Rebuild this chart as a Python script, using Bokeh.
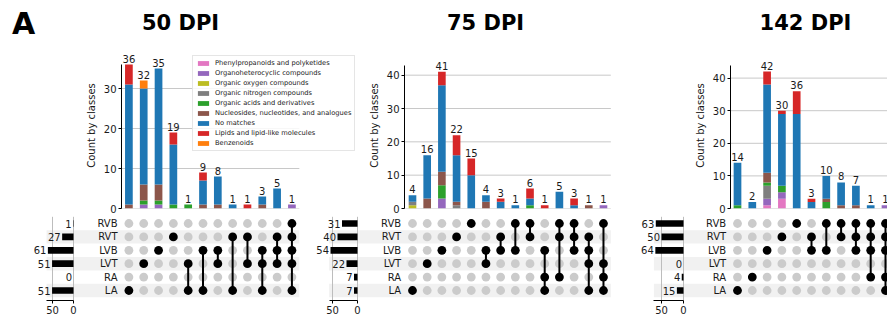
from bokeh.plotting import figure
from bokeh.models import Range1d, ColumnDataSource, FixedTicker, LinearAxis, Legend, LegendItem
from bokeh.layouts import column, row
from bokeh.embed import file_html
from bokeh.resources import INLINE
from bokeh.core.properties import value

# ------------------------------------------------------------------ data
SETS = ["RVB", "RVT", "LVB", "LVT", "RA", "LA"]
CLASSES = ["Phenylpropanoids and polyketides", "Organoheterocyclic compounds",
           "Organic oxygen compounds", "Organic nitrogen compounds",
           "Organic acids and derivatives", "Nucleosides, nucleotides, and analogues",
           "No matches", "Lipids and lipid-like molecules", "Benzenoids"]
CLASS_KEYS = ["phenyl", "organohet", "oxygen", "nitrogen", "acids", "nucleo",
              "nomatch", "lipids", "benzen"]
COLORS = ["#e377c2", "#9467bd", "#bcbd22", "#7f7f7f", "#2ca02c", "#8c564b",
          "#1f77b4", "#d62728", "#ff7f0e"]
TITLES = ["50 DPI", "75 DPI", "142 DPI"]

# ---- 50 DPI
d50_members = [["LA"], ["LVT"], ["LVB"], ["RVT"], ["LVT", "LA"], ["LVB", "LA"],
               ["LVB", "LVT"], ["RVT", "LA"], ["RVT", "LVT"], ["LVB", "LVT", "LA"],
               ["RVT", "LVB", "LVT"], ["RVB", "RVT", "LVB", "LVT", "LA"]]
d50_totals = [1, 27, 61, 51, 0, 51]
d50_phenyl = [0, 0, 0, 0, 0, 0, 0, 0, 0, 0, 0, 0]
d50_organohet = [0, 1, 1, 0, 0, 0, 0, 0, 0, 0, 0, 1]
d50_oxygen = [0, 0, 0, 0, 0, 0, 0, 0, 0, 0, 0, 0]
d50_nitrogen = [0, 0, 0, 0, 0, 0, 0, 0, 0, 0, 0, 0]
d50_acids = [0, 1, 1, 1, 1, 0, 0, 0, 0, 0, 0, 0]
d50_nucleo = [1, 4, 4, 0, 0, 1, 1, 0, 0, 1, 0, 0]
d50_nomatch = [30, 24, 29, 15, 0, 6, 7, 1, 0, 2, 5, 0]
d50_lipids = [5, 0, 0, 3, 0, 2, 0, 0, 1, 0, 0, 0]
d50_benzen = [0, 2, 0, 0, 0, 0, 0, 0, 0, 0, 0, 0]

# ---- 75 DPI
d75_members = [["LA"], ["LVT"], ["LVB"], ["RVT"], ["RVB"], ["LVB", "LVT"],
               ["RVT", "LVB"], ["RVB", "LVB"], ["RVB", "RVT"], ["LVB", "RA", "LA"],
               ["RVB", "RVT", "RA"], ["RVB", "RVT", "LVB"], ["RVT", "LVB", "LVT", "LA"],
               ["RVB", "LVT", "RA", "LA"]]
d75_totals = [31, 40, 54, 22, 7, 7]
d75_phenyl = [0, 0, 0, 0, 0, 0, 0, 0, 0, 0, 0, 0, 0, 0]
d75_organohet = [0, 0, 3, 0, 0, 0, 0, 0, 0, 0, 0, 0, 0, 1]
d75_oxygen = [1, 0, 0, 0, 0, 0, 0, 0, 0, 0, 0, 0, 0, 0]
d75_nitrogen = [1, 0, 0, 1, 0, 0, 0, 0, 0, 0, 0, 0, 0, 0]
d75_acids = [0, 0, 4, 0, 0, 0, 0, 0, 1, 0, 0, 0, 0, 0]
d75_nucleo = [0, 3, 4, 1, 0, 2, 0, 0, 0, 0, 0, 0, 1, 0]
d75_nomatch = [2, 13, 26, 14, 10, 2, 2, 1, 2, 0, 5, 1, 0, 0]
d75_lipids = [0, 0, 4, 6, 5, 0, 1, 0, 3, 1, 0, 2, 0, 0]
d75_benzen = [0, 0, 0, 0, 0, 0, 0, 0, 0, 0, 0, 0, 0, 0]

# ---- 142 DPI
d142_members = [["LA"], ["RA"], ["LVB"], ["RVT"], ["RVB"], ["RVT", "LVB"],
                ["RVB", "LVB"], ["RVB", "RVT"], ["RVB", "RVT", "LVB"],
                ["RVB", "RVT", "LVB", "RA"], ["RVB", "RVT", "LVB", "RA", "LA"]]
d142_totals = [63, 50, 64, 0, 4, 15]
d142_phenyl = [0, 0, 1, 3, 0, 0, 0, 0, 0, 0, 0]
d142_organohet = [0, 0, 2, 2, 0, 0, 0, 0, 0, 0, 1]
d142_oxygen = [0, 0, 0, 0, 0, 0, 0, 0, 0, 0, 0]
d142_nitrogen = [0, 0, 4, 0, 0, 0, 0, 0, 0, 0, 0]
d142_acids = [1, 0, 1, 2, 0, 0, 2, 0, 0, 0, 0]
d142_nucleo = [0, 0, 3, 0, 0, 0, 1, 1, 1, 0, 0]
d142_nomatch = [13, 2, 27, 22, 29, 2, 7, 7, 6, 1, 0]
d142_lipids = [0, 0, 4, 1, 7, 1, 0, 0, 0, 0, 0]
d142_benzen = [0, 0, 0, 0, 0, 0, 0, 0, 0, 0, 0]

PANELS = [
    dict(members=d50_members, totals=d50_totals,
         stacks=[d50_phenyl, d50_organohet, d50_oxygen, d50_nitrogen, d50_acids,
                 d50_nucleo, d50_nomatch, d50_lipids, d50_benzen]),
    dict(members=d75_members, totals=d75_totals,
         stacks=[d75_phenyl, d75_organohet, d75_oxygen, d75_nitrogen, d75_acids,
                 d75_nucleo, d75_nomatch, d75_lipids, d75_benzen]),
    dict(members=d142_members, totals=d142_totals,
         stacks=[d142_phenyl, d142_organohet, d142_oxygen, d142_nitrogen, d142_acids,
                 d142_nucleo, d142_nomatch, d142_lipids, d142_benzen]),
]

# ------------------------------------------------------------------ layout (page px)
FONT_NAME = "DejaVu Sans"
FONT = value(FONT_NAME)
TXT = "#1a1a1a"
PAGE_W = 887
TITLE_H = 42
BAR_TOP, BAR_ZERO, BAR_BOTTOM = 42, 208, 214
ROW_TOP, ROW_AXIS, ROW_BOTTOM = 214, 300, 322
LA_Y, ROW_PITCH = 290.0, 13.4

LAYOUT = [
    dict(c0=128.4, s=14.82, bar=(0, 121, 360, 360), ypx=4.0, ytop=36.0,
         bot=(0, 20, 300, 305), tz=73.0, tk=0.42, title_x=180),
    dict(c0=412.0, s=14.69, bar=(360, 404, 611, 686), ypx=3.333, ytop=43.0,
         bot=(305, 310, 611, 636), tz=357.0, tk=0.5, title_x=485),
    dict(c0=737.0, s=14.8, bar=(686, 730, 887, 887), ypx=3.26, ytop=44.0,
         bot=(636, 638, 887, 887), tz=683.0, tk=0.44, title_x=805),
]


def style_axis(ax):
    ax.axis_line_color = "black"
    ax.major_tick_line_color = "black"
    ax.minor_tick_line_color = None
    ax.major_tick_in = 0
    ax.major_tick_out = 3
    ax.major_label_text_font = FONT_NAME
    ax.major_label_text_font_size = "10px"
    ax.major_label_text_color = TXT
    ax.major_label_standoff = 2


def bar_figure(panel, L, legend=False):
    cx0, fl, fr, cx1 = L["bar"]
    c0, s = L["c0"], L["s"]
    n = len(panel["members"])
    xr = Range1d((fl - c0) / s, (fr - c0) / s)
    yr = Range1d(0, (BAR_ZERO - BAR_TOP) / L["ypx"])
    p = figure(width=cx1 - cx0, height=BAR_BOTTOM - BAR_TOP, x_range=xr, y_range=yr,
               x_axis_type=None, output_backend="svg", toolbar_location=None,
               min_border_left=fl - cx0, min_border_right=cx1 - fr,
               min_border_top=0, min_border_bottom=BAR_BOTTOM - BAR_ZERO)
    p.outline_line_color = None
    p.grid.visible = False
    totals = [sum(col) for col in zip(*panel["stacks"])]
    ticks = list(range(0, int(L["ytop"]) + 1, 10))
    ax = p.yaxis[0]
    ax.ticker = FixedTicker(ticks=ticks)
    ax.bounds = (0, L["ytop"])
    style_axis(ax)
    ax.axis_label = "Count by classes"
    ax.axis_label_text_font = FONT_NAME
    ax.axis_label_text_font_size = "10px"
    ax.axis_label_text_font_style = "normal"
    ax.axis_label_text_color = TXT
    ax.axis_label_standoff = 4
    # grid lines
    p.segment(x0=[-0.5] * len(ticks), x1=[n - 0.5] * len(ticks), y0=ticks, y1=ticks,
              line_color="#c8c8c8", line_width=1)
    data = {"x": list(range(n))}
    for k, vals in zip(CLASS_KEYS, panel["stacks"]):
        data[k] = vals
    src = ColumnDataSource(data)
    rs = p.vbar_stack(CLASS_KEYS, x="x", width=0.52, fill_color=COLORS,
                      line_color=None, source=src)
    p.text(x=list(range(n)), y=totals, text=[str(t) for t in totals],
           text_font=FONT, text_font_size="10px", text_color=TXT, y_offset=-2,
           text_align="center", text_baseline="bottom")
    if legend:
        items = [LegendItem(label=c, renderers=[r]) for c, r in zip(CLASSES, rs)]
        leg = Legend(items=items, location=(192 - fl, BAR_ZERO - 151))
        leg.label_text_font = FONT_NAME
        leg.label_text_font_size = "6.7px"
        leg.label_text_color = TXT
        leg.glyph_width = 14
        leg.glyph_height = 6
        leg.label_height = 8
        leg.spacing = 2
        leg.padding = 3
        leg.margin = 0
        leg.label_standoff = 5
        leg.border_line_color = "#cccccc"
        leg.background_fill_color = "white"
        leg.background_fill_alpha = 0.85
        p.add_layout(leg)
    return p


def bottom_figure(panel, L):
    cx0, fl, fr, cx1 = L["bot"]
    c0, s, tz, tk = L["c0"], L["s"], L["tz"], L["tk"]
    n = len(panel["members"])
    xr = Range1d((fl - c0) / s, (fr - c0) / s)
    yr = Range1d((LA_Y - ROW_AXIS) / ROW_PITCH, (LA_Y - ROW_TOP) / ROW_PITCH)
    p = figure(width=cx1 - cx0, height=ROW_BOTTOM - ROW_TOP, x_range=xr, y_range=yr,
               x_axis_type=None, y_axis_type=None, output_backend="svg",
               toolbar_location=None, min_border_left=fl - cx0,
               min_border_right=cx1 - fr, min_border_top=0,
               min_border_bottom=ROW_BOTTOM - ROW_AXIS)
    p.outline_line_color = None
    p.extra_x_ranges = {"tot": Range1d((tz - fl) / tk, (tz - fr) / tk)}
    totals = panel["totals"]
    tmax = 1.05 * max(totals)
    rows = [len(SETS) - 1 - i for i in range(len(SETS))]
    # shading bands
    left_main = (tz - tmax * tk - c0) / s
    shade_rows = [r for r in rows if r % 2 == 0]
    p.quad(left=[left_main] * len(shade_rows), right=[n - 0.5] * len(shade_rows),
           bottom=[r - 0.5 for r in shade_rows], top=[r + 0.5 for r in shade_rows],
           fill_color="#f1f1f1", line_color=None)
    # totals grid
    gt = [0, 50]
    p.segment(x0=gt, x1=gt, y0=[yr.start] * 2, y1=[len(SETS) - 0.5] * 2,
              x_range_name="tot", line_color="#bdbdbd", line_width=1)
    # totals bars
    p.hbar(y=rows, left=[0] * len(rows), right=totals, height=0.5,
           x_range_name="tot", fill_color="black", line_color=None)
    p.text(x=totals, y=rows, text=[str(t) for t in totals], x_range_name="tot",
           x_offset=-1.5, text_align="right", text_baseline="middle",
           text_font=FONT, text_font_size="10px", text_color=TXT)
    ax = LinearAxis(x_range_name="tot", ticker=FixedTicker(ticks=[0, 50]),
                    bounds=(0, tmax))
    style_axis(ax)
    p.add_layout(ax, "below")
    # set labels
    p.text(x=[-0.5] * len(SETS), y=rows, text=SETS, x_offset=-4,
           text_align="right", text_baseline="middle",
           text_font=FONT, text_font_size="10px", text_color=TXT)
    # matrix dots
    gx, gy, ax_, ay, lx, ly0, ly1 = [], [], [], [], [], [], []
    for ci, mem in enumerate(panel["members"]):
        act = [len(SETS) - 1 - SETS.index(m) for m in mem]
        for r in rows:
            if r in act:
                ax_.append(ci); ay.append(r)
            else:
                gx.append(ci); gy.append(r)
        if len(act) > 1:
            lx.append(ci); ly0.append(min(act)); ly1.append(max(act))
    p.scatter(gx, gy, size=8.8, fill_color="#cbcbcb", line_color=None)
    p.segment(x0=lx, x1=lx, y0=ly0, y1=ly1, line_color="black", line_width=2)
    p.scatter(ax_, ay, size=8.8, fill_color="black", line_color=None)
    return p


# title strip
title = figure(width=PAGE_W, height=TITLE_H, x_range=Range1d(0, PAGE_W),
               y_range=Range1d(TITLE_H, 0), x_axis_type=None, y_axis_type=None,
               output_backend="svg", toolbar_location=None, min_border=0)
title.outline_line_color = None
title.grid.visible = False
title.text(x=[23], y=[23], text=["A"], text_font=FONT, text_font_style="bold",
           text_font_size="30px", text_color="black", text_align="center",
           text_baseline="middle")
title.text(x=[L["title_x"] for L in LAYOUT], y=[22] * 3, text=TITLES, text_font=FONT,
           text_font_style="bold", text_font_size="21px", text_color="black",
           text_align="center", text_baseline="middle")

bars = [bar_figure(P, L, legend=(i == 0)) for i, (P, L) in enumerate(zip(PANELS, LAYOUT))]
bottoms = [bottom_figure(P, L) for P, L in zip(PANELS, LAYOUT)]

layout = column(title, row(*bars, spacing=0), row(*bottoms, spacing=0), spacing=0)
open("out.html", "w").write(file_html(layout, INLINE))
